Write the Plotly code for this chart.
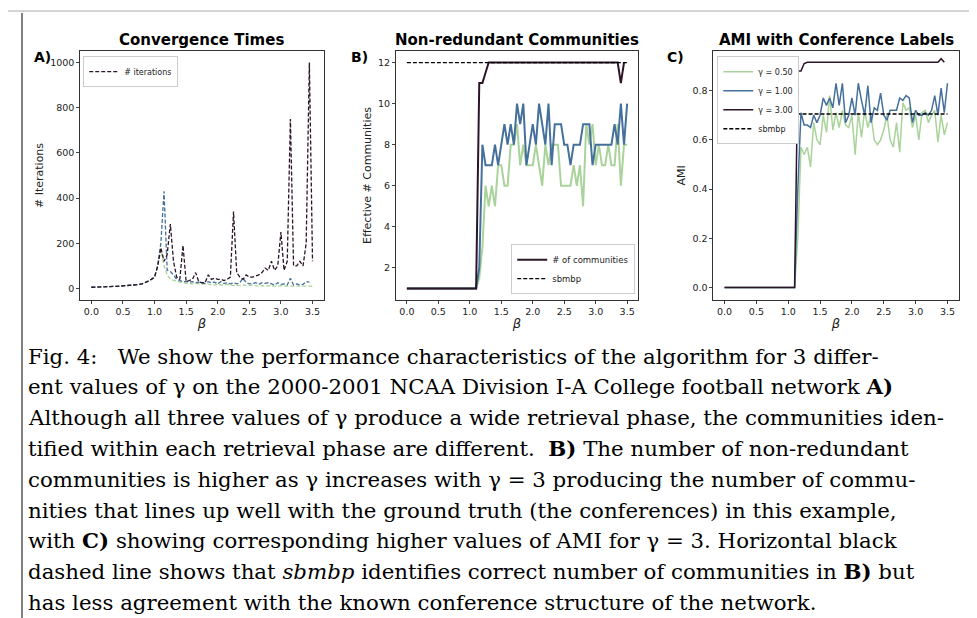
import plotly.graph_objects as go

beta = [0.0,0.05,0.1,0.15,0.2,0.25,0.3,0.35,0.4,0.45,0.5,0.55,0.6,0.65,0.7,0.75,0.8,0.85,0.9,0.95,
        1.0,1.05,1.1,1.15,1.2,1.25,1.3,1.35,1.4,1.45,1.5,1.55,1.6,1.65,1.7,1.75,1.8,1.85,1.9,1.95,
        2.0,2.05,2.1,2.15,2.2,2.25,2.3,2.35,2.4,2.45,2.5,2.55,2.6,2.65,2.7,2.75,2.8,2.85,2.9,2.95,
        3.0,3.05,3.1,3.15,3.2,3.25,3.3,3.35,3.4,3.45,3.5]
pre_iter = [5,6,6,7,7,8,8,9,9,10,10,11,12,13,15,17,20,25,32,40,50,100]
iter_g3 = pre_iter + [180,120,150,285,120,50,40,190,30,35,40,70,30,25,25,60,40,45,40,40,35,40,50,340,70,50,40,60,50,50,55,60,70,90,80,120,80,100,250,80,120,750,100,100,120,100,200,1000,120]
iter_g1 = pre_iter + [200,430,80,75,60,40,35,30,30,28,30,25,28,25,22,30,25,28,20,30,22,25,20,25,20,25,45,25,20,22,25,18,25,22,25,20,15,25,18,20,15,45,15,20,15,18,30,28]
iter_g05 = pre_iter + [170,100,60,40,35,30,28,25,25,22,20,22,20,18,20,18,18,15,20,15,15,18,15,12,15,12,15,12,12,15,12,10,12,10,12,10,10,10,12,10,10,8,10,10,8,10,10,8,10]

pre_one = [1]*23
comm_g3 = pre_one + [11,11,11.5,12,12,12,12,12,12,12,12,12,12,12,12,12,12,12,12,12,12,12,12,12,12,12,12,12,12,12,12,12,12,12,12,12,12,12,12,12,12,12,12,12,12,11,12]
comm_g1 = pre_one + [2,8,7,7,7,8,7,8,9,8,9,8,10,9,10,7,8,9,8,10,9,8,10,7,9,9,9,8,8,7,8,8,8,9,9,9,7,8,8,8,8,8,8,9,8,10,8,10]
comm_g05 = pre_one + [1.5,3,6,5,6,5,7,7,6,6,8,8,9,7,8,7,7,7,8,7,6,8,7,8,8,8,6,6,6,6,7,6,7,5,9,8,9,7,8,7,7,8,7,7,9,6,8,8]

pre_zero = [0]*23
ami_g3 = pre_zero + [0.88,0.88,0.91,0.915,0.915,0.915,0.915,0.915,0.915,0.915,0.915,0.915,0.915,0.915,0.915,0.915,0.915,0.915,0.915,0.915,0.915,0.915,0.915,0.915,0.915,0.915,0.915,0.915,0.915,0.915,0.915,0.915,0.915,0.915,0.915,0.915,0.915,0.915,0.915,0.915,0.915,0.915,0.915,0.915,0.915,0.93,0.915]
ami_g1 = pre_zero + [0.4,0.71,0.66,0.66,0.65,0.7,0.67,0.7,0.77,0.74,0.77,0.73,0.83,0.74,0.83,0.67,0.7,0.77,0.7,0.83,0.76,0.7,0.82,0.67,0.73,0.72,0.79,0.7,0.68,0.72,0.72,0.72,0.77,0.76,0.78,0.77,0.67,0.72,0.7,0.7,0.71,0.7,0.72,0.78,0.7,0.81,0.71,0.83]
ami_g05 = pre_zero + [0.2,0.57,0.54,0.57,0.49,0.67,0.6,0.58,0.7,0.63,0.78,0.64,0.71,0.65,0.72,0.66,0.65,0.7,0.54,0.71,0.61,0.72,0.65,0.7,0.6,0.58,0.6,0.64,0.7,0.6,0.57,0.67,0.55,0.75,0.72,0.73,0.65,0.7,0.6,0.71,0.72,0.67,0.7,0.72,0.59,0.7,0.62,0.67]
sbmbp_comm = 12
sbmbp_ami = 0.705

GREEN = "#a9d39b"; BLUE = "#45709c"; DARK = "#2b1527"
DASH = "4px,2px"

fig = go.Figure()
# Panel A
fig.add_trace(go.Scatter(x=beta, y=iter_g05, mode="lines", line=dict(color=GREEN, dash=DASH, width=1.3), xaxis="x", yaxis="y", showlegend=False))
fig.add_trace(go.Scatter(x=beta, y=iter_g1, mode="lines", line=dict(color=BLUE, dash=DASH, width=1.3), xaxis="x", yaxis="y", showlegend=False))
fig.add_trace(go.Scatter(x=beta, y=iter_g3, mode="lines", line=dict(color=DARK, dash=DASH, width=1.3), xaxis="x", yaxis="y", name="# iterations", legend="legend"))
# Panel B
fig.add_trace(go.Scatter(x=beta, y=comm_g05, mode="lines", line=dict(color=GREEN, width=2), xaxis="x2", yaxis="y2", showlegend=False))
fig.add_trace(go.Scatter(x=beta, y=comm_g1, mode="lines", line=dict(color=BLUE, width=2), xaxis="x2", yaxis="y2", showlegend=False))
fig.add_trace(go.Scatter(x=beta, y=comm_g3, mode="lines", line=dict(color=DARK, width=2), xaxis="x2", yaxis="y2", name="# of communities", legend="legend2"))
fig.add_trace(go.Scatter(x=[beta[0], beta[-1]], y=[sbmbp_comm]*2, mode="lines", line=dict(color="black", dash=DASH, width=1.3), xaxis="x2", yaxis="y2", name="sbmbp", legend="legend2"))
# Panel C
fig.add_trace(go.Scatter(x=beta, y=ami_g05, mode="lines", line=dict(color=GREEN, width=1.5), xaxis="x3", yaxis="y3", name="γ = 0.50", legend="legend3"))
fig.add_trace(go.Scatter(x=beta, y=ami_g1, mode="lines", line=dict(color=BLUE, width=1.5), xaxis="x3", yaxis="y3", name="γ = 1.00", legend="legend3"))
fig.add_trace(go.Scatter(x=beta, y=ami_g3, mode="lines", line=dict(color=DARK, width=1.5), xaxis="x3", yaxis="y3", name="γ = 3.00", legend="legend3"))
fig.add_trace(go.Scatter(x=[beta[0], beta[-1]], y=[sbmbp_ami]*2, mode="lines", line=dict(color="black", dash=DASH, width=1.5), xaxis="x3", yaxis="y3", name="sbmbp", legend="legend3"))

ax = dict(showgrid=False, zeroline=False, showline=True, mirror=True, linecolor="#333", linewidth=1,
          ticks="outside", ticklen=3, tickfont=dict(size=9.5, color="#222"))
xticks = dict(tickvals=[0,0.5,1,1.5,2,2.5,3,3.5], ticktext=["0.0","0.5","1.0","1.5","2.0","2.5","3.0","3.5"],
              range=[-0.175, 3.675], title=dict(text="<i>β</i>", font=dict(size=13), standoff=2))
yt = 0.930; yb = 0.528
fig.update_layout(
    width=977, height=618, margin=dict(l=0, r=0, t=0, b=0),
    paper_bgcolor="white", plot_bgcolor="white",
    font=dict(family="DejaVu Sans", color="#222"),
    xaxis=dict(**ax, **xticks, domain=[0.074, 0.323], anchor="y"),
    yaxis=dict(**ax, domain=[yb, yt], anchor="x", range=[-50, 1050], tickvals=[0,200,400,600,800,1000],
               title=dict(text="# Iterations", font=dict(size=11), standoff=4)),
    xaxis2=dict(**ax, **xticks, domain=[0.397, 0.645], anchor="y2"),
    yaxis2=dict(**ax, domain=[yb, yt], anchor="x2", range=[0.45, 12.55], tickvals=[2,4,6,8,10,12],
                title=dict(text="Effective # Communities", font=dict(size=11), standoff=4)),
    xaxis3=dict(**ax, **xticks, domain=[0.722, 0.973], anchor="y3"),
    yaxis3=dict(**ax, domain=[yb, yt], anchor="x3", range=[-0.05, 0.96], tickvals=[0,0.2,0.4,0.6,0.8],
                ticktext=["0.0","0.2","0.4","0.6","0.8"],
                title=dict(text="AMI", font=dict(size=11), standoff=4)),
    legend=dict(x=0.077, y=0.922, xanchor="left", yanchor="top", font=dict(size=8), bordercolor="#ccc", borderwidth=1, bgcolor="white", tracegroupgap=0, itemwidth=30),
    legend2=dict(x=0.642, y=0.537, xanchor="right", yanchor="bottom", font=dict(size=8.5), bordercolor="#ccc", borderwidth=1, bgcolor="white", tracegroupgap=0, itemwidth=30),
    legend3=dict(x=0.726, y=0.922, xanchor="left", yanchor="top", font=dict(size=8), bordercolor="#ccc", borderwidth=1, bgcolor="white", tracegroupgap=0, itemwidth=30),
)
titles = [("Convergence Times", 0.1985), ("Non-redundant Communities", 0.521), ("AMI with Conference Labels", 0.8475)]
for t, x in titles:
    fig.add_annotation(text="<b>%s</b>" % t, x=x, y=1 - 32/618, xref="paper", yref="paper", xanchor="center", yanchor="middle",
                       showarrow=False, font=dict(size=15, color="black"))
for lab, x in [("A)", 24), ("B)", 341), ("C)", 657)]:
    fig.add_annotation(text="<b>%s</b>" % lab, x=x/977, y=1 - 49/618, xref="paper", yref="paper", xanchor="left", yanchor="middle",
                       showarrow=False, font=dict(size=14, color="black"))

caption = [
    "Fig. 4:   We show the performance characteristics of the algorithm for 3 differ-",
    "ent values of γ on the 2000-2001 NCAA Division I-A College football network <b>A)</b>",
    "Although all three values of γ produce a wide retrieval phase, the communities iden-",
    "tified within each retrieval phase are different.  <b>B)</b> The number of non-redundant",
    "communities is higher as γ increases with γ = 3 producing the number of commu-",
    "nities that lines up well with the ground truth (the conferences) in this example,",
    "with <b>C)</b> showing corresponding higher values of AMI for γ = 3. Horizontal black",
    "dashed line shows that <i>sbmbp</i> identifies correct number of communities in <b>B)</b> but",
    "has less agreement with the known conference structure of the network.",
]
for i, line in enumerate(caption):
    fig.add_annotation(text=line, x=18/977, y=1 - (348 + i*30.8)/618, xref="paper", yref="paper",
                       xanchor="left", yanchor="middle", showarrow=False,
                       font=dict(family="DejaVu Serif", size=21.3, color="black"))
fig.add_shape(type="line", xref="paper", yref="paper", x0=14/977, x1=14/977, y0=0, y1=1-5/618, line=dict(color="black", width=1))
fig.add_shape(type="line", xref="paper", yref="paper", x0=0, x1=1, y0=1-3/618, y1=1-3/618, line=dict(color="#aaa", width=1))
fig.write_html("out.html")
